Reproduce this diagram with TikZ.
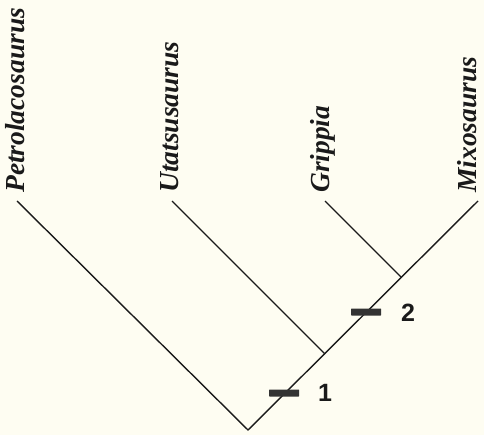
\documentclass[tikz,border=0pt]{standalone}
\usepackage{fontspec}
\setmainfont{Liberation Serif}
\newfontfamily\numfont{Liberation Sans}
\definecolor{bgcream}{HTML}{FEFDF2}
\definecolor{barcol}{HTML}{333333}
\definecolor{linecol}{HTML}{1A1A1A}
\begin{document}
\begin{tikzpicture}[x=1pt,y=-1pt,
  taxon/.style={rotate=90,anchor=mid west,inner sep=0pt,font=\fontsize{27.5}{27.5}\selectfont\bfseries\itshape,text=linecol},
  branch/.style={draw=linecol,line width=1.4pt},
  synbar/.style={fill=barcol,draw=none,minimum width=30pt,minimum height=7pt,inner sep=0pt,rounded corners=0.5pt},
  numlab/.style={font=\numfont\fontsize{25}{25}\selectfont\bfseries,text=linecol,inner sep=0pt}]
\fill[bgcream] (0,0) rectangle (484,435);
\useasboundingbox (0,0) rectangle (484,435);
\coordinate (root) at (248,430);
\coordinate (n1) at (325,354);
\coordinate (n2) at (401,277);
\coordinate (tP) at (17,201);
\coordinate (tU) at (172,201);
\coordinate (tG) at (325,201);
\coordinate (tM) at (478,201);
\draw[branch] (tP) -- (root) -- (tM);
\draw[branch] (tU) -- (n1);
\draw[branch] (tG) -- (n2);
\node[taxon] (lP) at (22.5,193) {Petrolacosaurus};
\node[taxon] (lU) at (176,193) {Utatsusaurus};
\node[taxon] (lG) at (327.5,193) {Grippia};
\node[taxon] (lM) at (474.5,193) {Mixosaurus};
\node[synbar] (b1) at (284,393) {};
\node[synbar] (b2) at (366,312) {};
\node[numlab] (num1) at (325,393) {1};
\node[numlab] (num2) at (408,313) {2};
\end{tikzpicture}
\end{document}
